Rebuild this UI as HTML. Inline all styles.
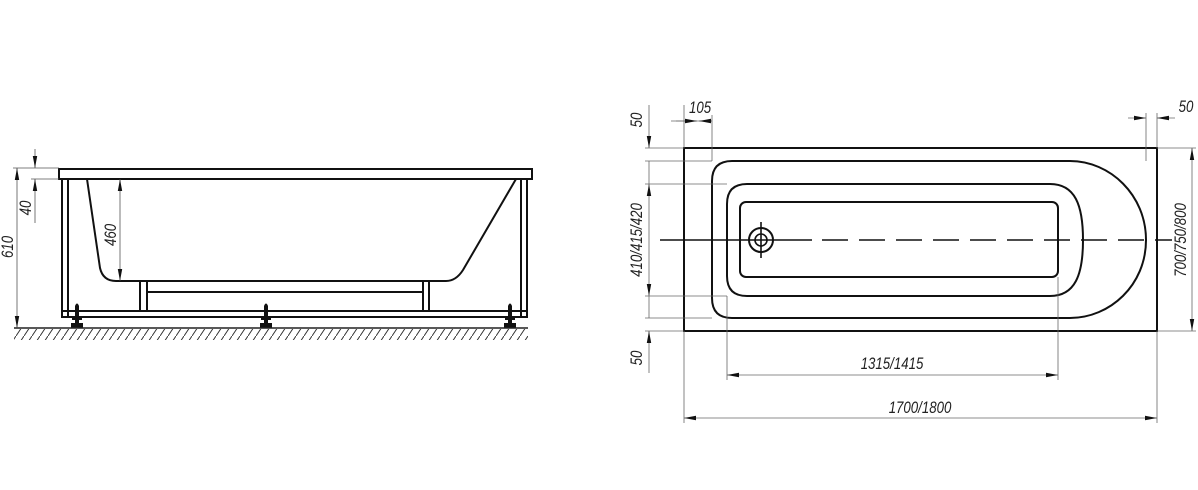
<!DOCTYPE html>
<html><head><meta charset="utf-8"><style>
html,body{margin:0;padding:0;background:#fff;}
svg{display:block;}
text{font-family:"Liberation Sans",sans-serif;font-style:italic;font-size:17px;fill:#222;}
</style></head><body>
<svg width="1198" height="490" viewBox="0 0 1198 490" xmlns="http://www.w3.org/2000/svg">
<defs>
<marker id="a" viewBox="0 0 12 6" refX="12" refY="3" markerWidth="12" markerHeight="6" orient="auto-start-reverse" markerUnits="userSpaceOnUse">
<path d="M0,0.8 L12,3 L0,5.2 z" fill="#111"/></marker>
<pattern id="h" width="8" height="12" patternUnits="userSpaceOnUse">
<path d="M8,0 L0,12" stroke="#333" stroke-width="1"/></pattern>
</defs>

<!-- ===== Side view ===== -->
<g fill="none" stroke="#111" stroke-width="2">
<rect x="59" y="169" width="473" height="10"/>
<rect x="62" y="179" width="6" height="138"/>
<rect x="521" y="179" width="6" height="138"/>
<rect x="62" y="311" width="465" height="6"/>
<path d="M87,179 L100,268 Q103,281 116,281 L446,281 Q456,281 463,270 L516,179"/>
<rect x="140" y="281" width="7" height="30"/>
<rect x="423" y="281" width="6" height="30"/>
<line x1="147" y1="292" x2="423" y2="292"/>
</g>
<!-- feet -->
<g fill="#111">
<path d="M75,316 L75,306 Q77,301 79,306 L79,316z"/><rect x="72" y="316" width="10" height="4"/><rect x="75" y="320" width="4" height="3"/><rect x="71" y="323" width="12" height="5"/>
<path d="M264,316 L264,306 Q266,301 268,306 L268,316z"/><rect x="261" y="316" width="10" height="4"/><rect x="264" y="320" width="4" height="3"/><rect x="260" y="323" width="12" height="5"/>
<path d="M508,316 L508,306 Q510,301 512,306 L512,316z"/><rect x="505" y="316" width="10" height="4"/><rect x="508" y="320" width="4" height="3"/><rect x="504" y="323" width="12" height="5"/>
</g>
<line x1="14" y1="328" x2="528" y2="328" stroke="#222" stroke-width="1.5"/>
<rect x="14" y="329" width="514" height="11" fill="url(#h)"/>
<!-- side dims -->
<g stroke="#555" stroke-width="0.8" fill="none">
<line x1="13" y1="168" x2="59" y2="168"/>
<line x1="31" y1="179" x2="59" y2="179"/>
<line x1="17" y1="168" x2="17" y2="328" marker-start="url(#a)" marker-end="url(#a)"/>
<line x1="35" y1="149" x2="35" y2="168" marker-end="url(#a)"/>
<line x1="35" y1="223" x2="35" y2="179" marker-end="url(#a)"/>
<line x1="120" y1="179" x2="120" y2="281" marker-start="url(#a)" marker-end="url(#a)"/>
</g>
<text transform="translate(13,247) rotate(-90) scale(0.78,1)" text-anchor="middle">610</text>
<text transform="translate(31,208) rotate(-90) scale(0.78,1)" text-anchor="middle">40</text>
<text transform="translate(116,235) rotate(-90) scale(0.78,1)" text-anchor="middle">460</text>

<!-- ===== Plan view ===== -->
<g fill="none" stroke="#111" stroke-width="2">
<rect x="684" y="148" width="473" height="183"/>
<path d="M732,161 L1070,161 C1110,161 1146,195 1146,240 C1146,285 1110,318 1070,318 L732,318 Q712,318 712,298 L712,181 Q712,161 732,161 Z"/>
<path d="M747,184 L1050,184 C1075,184 1083,205 1083,240 C1083,275 1075,296 1050,296 L747,296 Q727,296 727,276 L727,204 Q727,184 747,184 Z"/>
<rect x="740" y="202" width="318" height="75" rx="6"/>
<circle cx="761" cy="240" r="12"/>
<circle cx="761" cy="240" r="6" stroke-width="1.6"/>
</g>
<line x1="761" y1="222" x2="761" y2="258" stroke="#111" stroke-width="1.6"/>
<line x1="660" y1="240" x2="812" y2="240" stroke="#111" stroke-width="1.6"/>
<line x1="822" y1="240" x2="1172" y2="240" stroke="#111" stroke-width="1.6" stroke-dasharray="26,11"/>

<g stroke="#666" stroke-width="0.8" fill="none">
<!-- left extension lines -->
<line x1="645" y1="148" x2="684" y2="148"/>
<line x1="645" y1="161" x2="712" y2="161"/>
<line x1="645" y1="184" x2="727" y2="184"/>
<line x1="645" y1="296" x2="727" y2="296"/>
<line x1="645" y1="318" x2="712" y2="318"/>
<line x1="645" y1="331" x2="684" y2="331"/>
<line x1="649" y1="105" x2="649" y2="148" marker-end="url(#a)"/>
<line x1="649" y1="161" x2="649" y2="184"/>
<line x1="649" y1="184" x2="649" y2="296" marker-start="url(#a)" marker-end="url(#a)"/>
<line x1="649" y1="296" x2="649" y2="318"/>
<line x1="649" y1="373" x2="649" y2="331" marker-end="url(#a)"/>
<!-- top -->
<line x1="684" y1="105" x2="684" y2="148"/>
<line x1="712" y1="115" x2="712" y2="161"/>
<line x1="671" y1="121" x2="712" y2="121"/>
<line x1="676" y1="121" x2="697" y2="121" marker-end="url(#a)"/>
<line x1="712" y1="121" x2="699" y2="121" marker-end="url(#a)"/>
<line x1="1146" y1="113" x2="1146" y2="161"/>
<line x1="1157" y1="113" x2="1157" y2="148"/>
<line x1="1128" y1="118" x2="1146" y2="118" marker-end="url(#a)"/>
<line x1="1175" y1="118" x2="1157" y2="118" marker-end="url(#a)"/>
<!-- right -->
<line x1="1157" y1="148" x2="1196" y2="148"/>
<line x1="1157" y1="331" x2="1196" y2="331"/>
<line x1="1192" y1="148" x2="1192" y2="331" marker-start="url(#a)" marker-end="url(#a)"/>
<!-- bottom -->
<line x1="727" y1="296" x2="727" y2="380"/>
<line x1="1058" y1="277" x2="1058" y2="380"/>
<line x1="727" y1="375" x2="1058" y2="375" marker-start="url(#a)" marker-end="url(#a)"/>
<line x1="684" y1="331" x2="684" y2="423"/>
<line x1="1157" y1="331" x2="1157" y2="423"/>
<line x1="684" y1="418" x2="1157" y2="418" marker-start="url(#a)" marker-end="url(#a)"/>
</g>
<text transform="translate(642,120) rotate(-90) scale(0.78,1)" text-anchor="middle">50</text>
<text transform="translate(642,240) rotate(-90) scale(0.78,1)" text-anchor="middle">410/415/420</text>
<text transform="translate(642,358) rotate(-90) scale(0.78,1)" text-anchor="middle">50</text>
<text transform="translate(700,113) scale(0.78,1)" text-anchor="middle">105</text>
<text transform="translate(1186,112) scale(0.78,1)" text-anchor="middle">50</text>
<text transform="translate(1186,240) rotate(-90) scale(0.78,1)" text-anchor="middle">700/750/800</text>
<text transform="translate(892,369) scale(0.78,1)" text-anchor="middle">1315/1415</text>
<text transform="translate(920,413) scale(0.78,1)" text-anchor="middle">1700/1800</text>
</svg>
</body></html>
